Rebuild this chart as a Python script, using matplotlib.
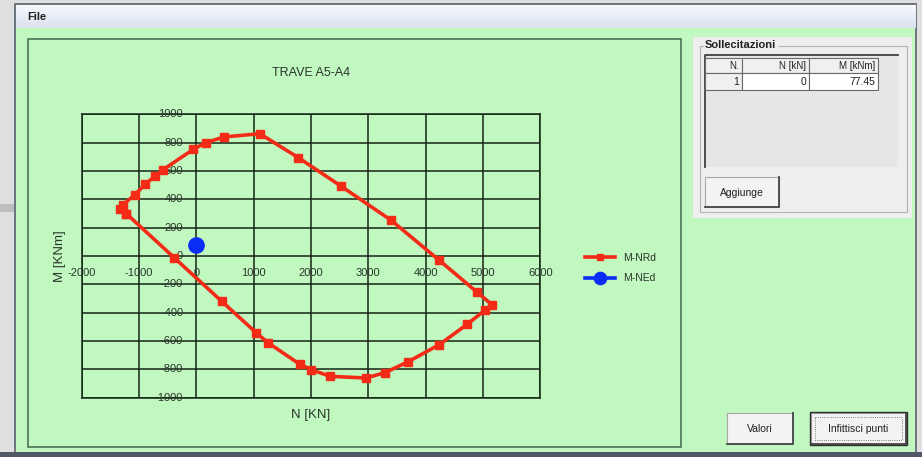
import matplotlib.pyplot as plt
from matplotlib.patches import Rectangle
import numpy as np

plt.rcParams['font.family'] = ['Liberation Sans', 'DejaVu Sans']

# dominio resistente M-N (kN, kNm), percorso in senso orario
N_rd = [-1222, -1332, -1279, -1070, -895, -726, -581, -52, 164, 483, 1106,
        1780, 2520, 3398, 4236, 4893, 5155, 5033, 4730, 4241, 3700, 3293,
        2956, 2328, 2007, 1804, 1257, 1047, 443, -389]
M_rd = [299, 334, 363, 433, 506, 562, 609, 753, 800, 840, 863,
        694, 494, 252, -30, -254, -343, -383, -480, -625, -745, -823,
        -861, -849, -802, -764, -614, -543, -320, -11]

# sollecitazioni
N_ed = [0]
M_ed = [77.45]

x_ticks = [-2000, -1000, 0, 1000, 2000, 3000, 4000, 5000, 6000]
y_ticks = [-1000, -800, -600, -400, -200, 0, 200, 400, 600, 800, 1000]

W, H = 922, 457
GREEN = '#c0f8c0'
TXT = '#2c342c'

fig = plt.figure(figsize=(W / 100, H / 100), dpi=100)
fig.patch.set_facecolor('#dfdfdf')

# finestra in coordinate pixel
bg = fig.add_axes([0, 0, 1, 1])
bg.set_xlim(0, W)
bg.set_ylim(H, 0)
bg.axis('off')


def box(x0, y0, x1, y1, fc, ec='none', lw=1.0, z=1, ls='-'):
    bg.add_patch(Rectangle((x0, y0), x1 - x0, y1 - y0, facecolor=fc,
                           edgecolor=ec, linewidth=lw, zorder=z, linestyle=ls))


def button(x0, y0, x1, y1, text, default=False):
    box(x0, y0, x1, y1, '#f3f3f3', '#a8a8a8', 0.8, z=3)
    bg.plot([x1, x1, x0], [y0, y1, y1], color='#454545', lw=1.3, zorder=4)
    if default:
        box(x0 - 1, y0 - 1, x1 + 1, y1 + 1, 'none', '#303030', 1.0, z=4)
        box(x0 + 4, y0 + 4, x1 - 4, y1 - 4, 'none', '#505050', 0.6, z=4, ls=':')
    bg.text((x0 + x1) / 2, (y0 + y1) / 2 + 1, text, ha='center', va='center',
            fontsize=7.5, color='#202020', zorder=5)


box(0, 204, 15, 212, '#bdbdbd')
box(15, 4, 916, 453, '#f0f0f0', '#6c747c', 1.4)

# barra menu con sfumatura chiara
t = np.linspace(0, 1, 24)[:, None, None]
top_c = np.array([0.97, 0.97, 0.99])
bot_c = np.array([0.86, 0.89, 0.94])
grad = top_c * (1 - t) + bot_c * t
bg.imshow(grad, extent=(16, 915, 28, 5), aspect='auto', zorder=2)
bg.text(27, 17, 'File', fontsize=8, fontweight='bold', color='#202020',
        va='center', zorder=3)
box(16, 28, 915, 452, GREEN, z=2)
box(0, 452, W, H, '#505868', z=2)

# riquadro grafico
box(28, 39, 681, 447, 'none', '#4d7356', 1.2, z=3)

# gruppo sollecitazioni
box(693, 37, 912, 218, '#eeeeee', z=3)
box(700, 46, 907, 212, 'none', '#b4b4b4', 0.8, z=3)
bg.text(705, 45, 'Sollecitazioni', fontsize=8, fontweight='bold', color='#202020',
        va='center', zorder=5, bbox=dict(fc='#eeeeee', ec='none', pad=1))
box(705, 55, 898, 167, '#e6e6e6', z=4)
bg.plot([705, 705, 898], [167, 55, 55], color='#404040', lw=1.3, zorder=5)

cols = [(705, 742, 'N.'), (742, 809, 'N [kN]'), (809, 878, 'M [kNm]')]
row_vals = ['1', '0', '77.45']
for i, (c0, c1, name) in enumerate(cols):
    box(c0, 58, c1, 73, '#f0f0f0', '#6a6a6a', 0.8, z=5)
    bg.text(c1 - 3, 66, name, ha='right', va='center', fontsize=7, color='#202020', zorder=6)
    box(c0, 73, c1, 90, '#f0f0f0' if i == 0 else 'white', '#6a6a6a', 0.8, z=5)
    bg.text(c1 - 3, 82, row_vals[i], ha='right', va='center', fontsize=7.5,
            color='#202020', zorder=6)

button(705, 177, 779, 207, 'Aggiunge')
button(727, 413, 793, 444, 'Valori')
button(811, 413, 906, 444, 'Infittisci punti', default=True)

# grafico M-N
left, right, top, bottom = 81.7, 540.3, 114.3, 397.7
ax = fig.add_axes([left / W, 1 - bottom / H, (right - left) / W, (bottom - top) / H])
ax.set_facecolor('none')
ax.set_xlim(-2000, 6000)
ax.set_ylim(-1000, 1000)
ax.set_xticks(x_ticks)
ax.set_yticks(y_ticks)
ax.grid(True, color='#142414', lw=1.1)
ax.set_axisbelow(True)
ax.tick_params(length=0, labelbottom=False, labelleft=False)
for s in ax.spines.values():
    s.set_color('#142414')
    s.set_linewidth(1.1)

for v in x_ticks:
    ax.annotate(str(v), (v, 0), xytext=(0, -12.5), textcoords='offset points',
                ha='center', va='center', fontsize=8, color=TXT, annotation_clip=False)
for v in y_ticks:
    ax.annotate(str(v), (0, v), xytext=(-9.5, 0), textcoords='offset points',
                ha='right', va='center', fontsize=8, color=TXT, annotation_clip=False)

red, = ax.plot(np.r_[N_rd, N_rd[0]], np.r_[M_rd, M_rd[0]], '-s', color='#f42b16',
               lw=2.6, ms=6, clip_on=False, zorder=3)
blue, = ax.plot(N_ed, M_ed, '-o', color='#0a2cf5', lw=2.6, ms=11, zorder=4)

fig.text(311 / W, 1 - 73 / H, 'TRAVE A5-A4', ha='center', va='center',
         fontsize=9, color=TXT)
fig.text(311 / W, 1 - 415 / H, 'N [KN]', ha='center', va='center',
         fontsize=9.5, color=TXT)
fig.text(60 / W, 1 - 256 / H, 'M [KNm]', ha='center', va='center',
         rotation=90, fontsize=9.5, color=TXT)

fig.legend([red, blue], ['M-NRd', 'M-NEd'], loc='center left',
           bbox_to_anchor=(576 / W, 1 - 268 / H), frameon=False, fontsize=7.5,
           handlelength=2.8, labelspacing=1.0, handletextpad=0.8,
           markerscale=0.8, labelcolor=TXT)

fig.savefig('out.png', dpi=100, facecolor=fig.get_facecolor())
